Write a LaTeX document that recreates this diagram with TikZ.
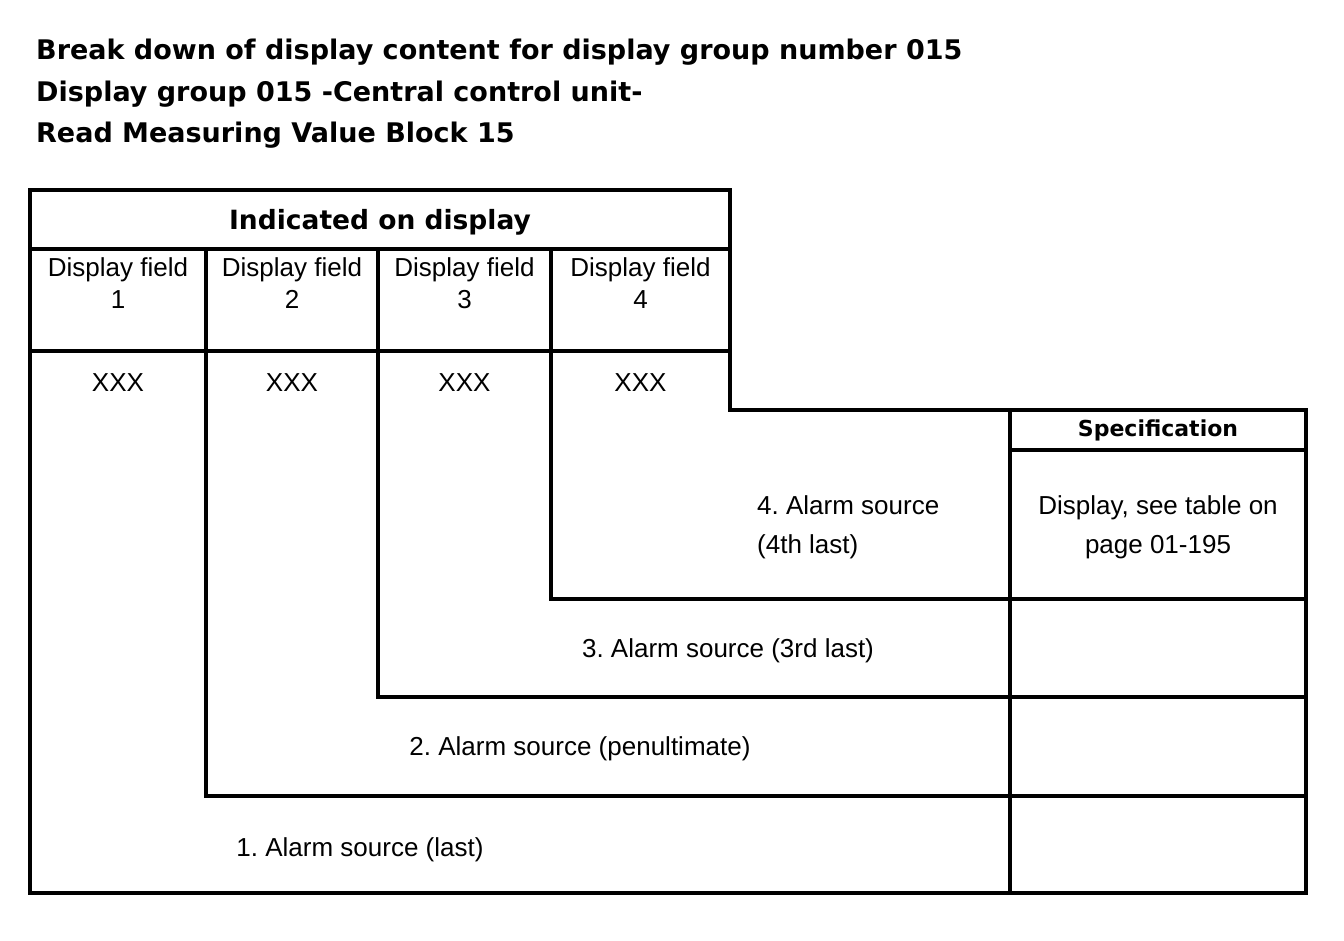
\documentclass[tikz,border=0pt]{standalone}
\usepackage{fontspec}
\setmainfont{Liberation Sans}
\newfontfamily\dvs{DejaVu Sans}
\frenchspacing
\begin{document}
\begin{tikzpicture}[x=1pt,y=-1pt,
  frame/.style={line width=3.2pt,line cap=rect,line join=miter},
  ttl/.style={anchor=base west,inner sep=0pt,font=\dvs\bfseries\fontsize{27}{32}\selectfont},
  hdr/.style={anchor=base,inner sep=0pt,font=\dvs\bfseries\fontsize{26.5}{31}\selectfont},
  spc/.style={anchor=base,inner sep=0pt,font=\dvs\bfseries\fontsize{22}{26}\selectfont},
  txt/.style={anchor=base,inner sep=0pt,font=\fontsize{26}{31}\selectfont},
  txtl/.style={anchor=base west,inner sep=0pt,font=\fontsize{26}{31}\selectfont}]
\useasboundingbox[fill=white] (0,0) rectangle (1344,940);
% titles
\node[ttl] (t1) at (36,59) {Break down of display content for display group number 015};
\node[ttl] (t2) at (36,101) {Display group 015 -Central control unit-};
\node[ttl] (t3) at (36,142) {Read Measuring Value Block 15};
% frame
\draw[frame] (30,190) -- (730,190) -- (730,410) -- (1306,410) -- (1306,893) -- (30,893) -- cycle;
\draw[frame] (30,249) -- (730,249);
\draw[frame] (30,351) -- (730,351);
\draw[frame] (206,249) -- (206,796) -- (1306,796);
\draw[frame] (378,249) -- (378,697) -- (1306,697);
\draw[frame] (551,249) -- (551,599) -- (1306,599);
\draw[frame] (1010,410) -- (1010,893);
\draw[frame] (1010,450) -- (1306,450);
% header texts
\node[hdr] (ind) at (380,229) {Indicated on display};
\node[spc] (spec) at (1158,436) {Specification};
\foreach \cx/\n in {118/1,292/2,464.5/3,640.5/4}{
  \node[txt] (df\n) at (\cx,276.5) {Display field};
  \node[txt] (dn\n) at (\cx,308) {\n};
  \node[txt] (x\n) at (\cx,391) {XXX};
}
\node[txtl] (a4a) at (757,514.5) {4. Alarm source};
\node[txtl] (a4b) at (757,553.5) {(4th last)};
\node[txt] (sa) at (1158,514.5) {Display, see table on};
\node[txt] (sb) at (1158,553.5) {page 01-195};
\node[txt] (a3) at (728,657.5) {3. Alarm source (3rd last)};
\node[txt] (a2) at (580,755.5) {2. Alarm source (penultimate)};
\node[txt] (a1) at (360,856.5) {1. Alarm source (last)};
\end{tikzpicture}
\end{document}
